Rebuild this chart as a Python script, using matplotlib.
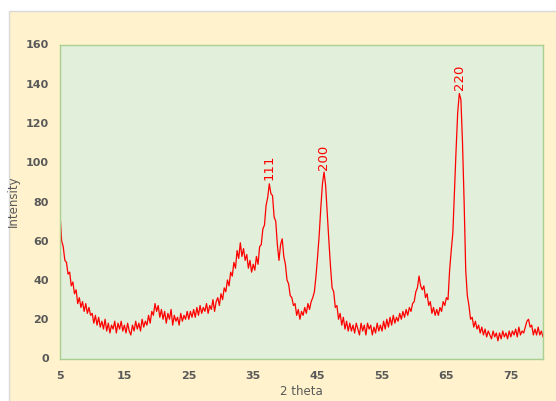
import numpy as np
import matplotlib
matplotlib.use("Agg")
import matplotlib.pyplot as plt
from matplotlib.patches import Rectangle

## XRD scan at 0.25 degree steps (5 .. 80)
two_theta_start = 5.0
two_theta_step = 0.25

intensity = [
    # 5.00 - 9.75
    74, 60, 57, 50, 49, 43, 44, 37, 39, 33, 35, 28, 31, 26, 29, 24, 28, 23, 26, 22,
    # 10.00 - 14.75
    23, 18, 22, 17, 21, 16, 19, 15, 20, 14, 18, 13, 17, 15, 19, 13, 18, 15, 19, 14,
    # 15.00 - 19.75
    17, 13, 18, 14, 12, 17, 14, 19, 15, 18, 14, 20, 16, 19, 17, 22, 18, 24, 22, 28,
    # 20.00 - 24.75
    24, 27, 21, 25, 20, 24, 18, 23, 20, 25, 17, 22, 19, 21, 17, 23, 19, 22, 20, 24,
    # 25.00 - 29.75
    20, 24, 21, 25, 21, 26, 22, 27, 23, 26, 24, 28, 23, 27, 25, 30, 24, 29, 31, 27,
    # 30.00 - 34.75
    33, 30, 36, 34, 40, 37, 44, 42, 49, 46, 55, 51, 59, 52, 56, 50, 53, 46, 50, 44,
    # 35.00 - 39.75
    48, 45, 52, 48, 57, 58, 66, 68, 78, 82, 89, 84, 83, 72, 70, 58, 50, 58, 61, 52,
    # 40.00 - 44.75
    48, 40, 38, 32, 31, 27, 28, 22, 25, 20, 24, 22, 26, 23, 28, 25, 29, 31, 34, 42,
    # 45.00 - 49.75
    52, 63, 77, 89, 95, 88, 74, 60, 47, 36, 34, 26, 27, 20, 23, 17, 21, 15, 19, 14,
    # 50.00 - 54.75
    18, 14, 17, 13, 18, 15, 12, 18, 14, 17, 12, 18, 15, 17, 12, 16, 13, 18, 14, 17,
    # 55.00 - 59.75
    14, 19, 15, 20, 16, 21, 17, 22, 18, 21, 19, 23, 20, 24, 21, 25, 22, 26, 24, 28,
    # 60.00 - 64.75
    29, 34, 36, 42, 37, 35, 37, 31, 33, 27, 29, 23, 26, 22, 25, 22, 26, 24, 29, 27,
    # 65.00 - 69.75
    31, 30, 45, 55, 64, 85, 106, 125, 135, 132, 110, 80, 45, 32, 27, 20, 21, 16, 19, 15,
    # 70.00 - 74.75
    17, 13, 16, 12, 15, 11, 14, 12, 10, 14, 11, 13, 9, 13, 10, 14, 11, 13, 10, 14,
    # 75.00 - 79.75
    11, 14, 12, 15, 11, 16, 12, 14, 13, 16, 19, 20, 16, 17, 12, 15, 12, 16, 12, 14,
    # 80.00
    11,
]
two_theta = two_theta_start + two_theta_step * np.arange(len(intensity))

## peak labels (Miller indices)
peak_labels = ['111', '200', '220']
peak_x = [37.4, 45.9, 67.1]
peak_y = [91, 96, 137]

x_ticks = [5, 15, 25, 35, 45, 55, 65, 75]
y_ticks = [0, 20, 40, 60, 80, 100, 120, 140, 160]

grey = '#595959'

fig = plt.figure(figsize=(5.56, 4.01), dpi=100, facecolor='white')
# cream chart area with a thin grey frame (behind the axes)
fig.patches.append(Rectangle((9 / 556, -0.01), 1.0, (401 - 11) / 401 + 0.01,
                             transform=fig.transFigure, facecolor='#FFF2CC',
                             edgecolor='#D9D9D9', linewidth=1.0, zorder=-10))

ax = fig.add_axes([60 / 556, (401 - 358.5) / 401, (543 - 60) / 556, (358.5 - 44.5) / 401])
ax.set_facecolor('#E2EFDA')
for sp in ax.spines.values():
    sp.set_color('#A9D08E')
    sp.set_linewidth(1.0)

ax.plot(two_theta, intensity, color='#FF0000', lw=0.9)

for lab, px, py in zip(peak_labels, peak_x, peak_y):
    ax.text(px, py, lab, rotation=90, color='#FF0000', fontsize=9.5,
            ha='center', va='bottom')

ax.set_xlim(5, 80)
ax.set_ylim(0, 160)
ax.set_xticks(x_ticks)
ax.set_yticks(y_ticks)
ax.tick_params(axis='both', length=0, labelsize=8, labelcolor=grey)
ax.tick_params(axis='x', pad=9)
ax.tick_params(axis='y', pad=8)
for t in ax.get_xticklabels() + ax.get_yticklabels():
    t.set_fontweight('bold')

ax.set_xlabel('2 theta', fontsize=8.5, color=grey, labelpad=3)
ax.set_ylabel('Intensity', fontsize=8.5, color=grey, labelpad=4)

plt.savefig('out.png', dpi=100, facecolor=fig.get_facecolor())
